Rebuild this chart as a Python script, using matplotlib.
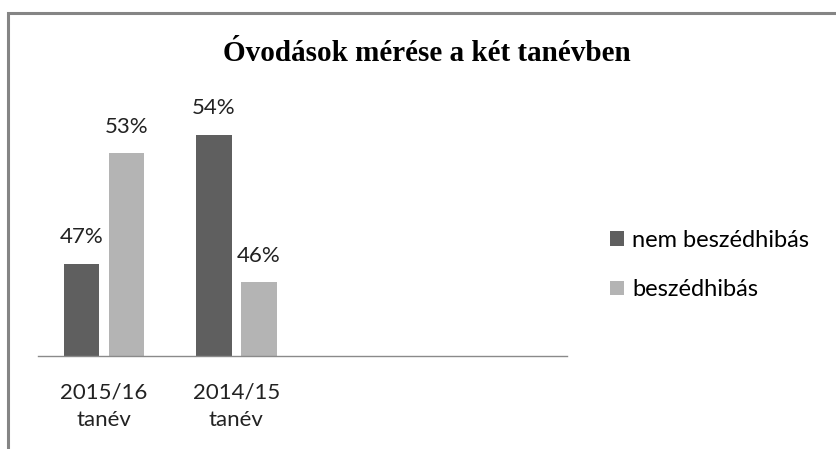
import matplotlib.pyplot as plt
import numpy as np
from matplotlib.patches import Rectangle

# Adatok
categories = ['2015/16\ntanév', '2014/15\ntanév']
series_names = ['nem beszédhibás', 'beszédhibás']
nem_beszedhibas = [0.47, 0.54]
beszedhibas = [0.53, 0.46]

colors = ['#5f5f5f', '#b4b4b4']
label_font = 'Lato'

fig = plt.figure(figsize=(8.36, 4.49), dpi=100)
ax = fig.add_axes([38 / 836, 1 - 356 / 449, 529 / 836, 258 / 449])

x = np.arange(len(categories))
w = 0.27
off = 0.17

b1 = ax.bar(x - off, nem_beszedhibas, w, bottom=0, color=colors[0], label=series_names[0])
b2 = ax.bar(x + off, beszedhibas, w, bottom=0, color=colors[1], label=series_names[1])

# feliratok a oszlopok fölött
for bars, vals in [(b1, nem_beszedhibas), (b2, beszedhibas)]:
    for rect, v in zip(bars, vals):
        ax.annotate('%d%%' % round(v * 100),
                    (rect.get_x() + rect.get_width() / 2, v),
                    xytext=(0, 12), textcoords='offset points',
                    ha='center', va='bottom',
                    fontsize=16, family=label_font, color='#222222')

# a tengely 4 kategória széles (kettő üres)
ax.set_xlim(-0.5, 3.5)
ax.set_ylim(0.42, 0.56)

ax.set_xticks(x)
ax.set_xticklabels(categories, fontsize=16, family=label_font,
                   color='#222222', linespacing=1.45)
ax.tick_params(axis='x', length=0, pad=19)
ax.set_yticks([])

for s in ['top', 'right', 'left']:
    ax.spines[s].set_visible(False)
ax.spines['bottom'].set_color('#8a8a8a')
ax.spines['bottom'].set_linewidth(1.0)

# cím
fig.text(427 / 836, 1 - 61 / 449, 'Óvodások mérése a két tanévben',
         ha='center', va='baseline', fontsize=21, fontweight='bold',
         family='Liberation Serif', color='black')

# jelmagyarázat
fig.legend(handles=[b1, b2], labels=series_names,
           loc='center left', bbox_to_anchor=(610 / 836, 1 - 265 / 449),
           frameon=False, prop={'family': label_font, 'size': 17},
           handlelength=0.6, handleheight=0.55, handletextpad=0.35,
           labelspacing=1.2, borderpad=0, borderaxespad=0)

# keret (csak a bal és felső széle látszik)
fig.patches.append(Rectangle((8 / 836, -0.2), 1.2, 1.2 - 13.5 / 449,
                             transform=fig.transFigure, fill=False,
                             edgecolor='#858585', linewidth=2.2))

fig.savefig('out.png', dpi=100)
